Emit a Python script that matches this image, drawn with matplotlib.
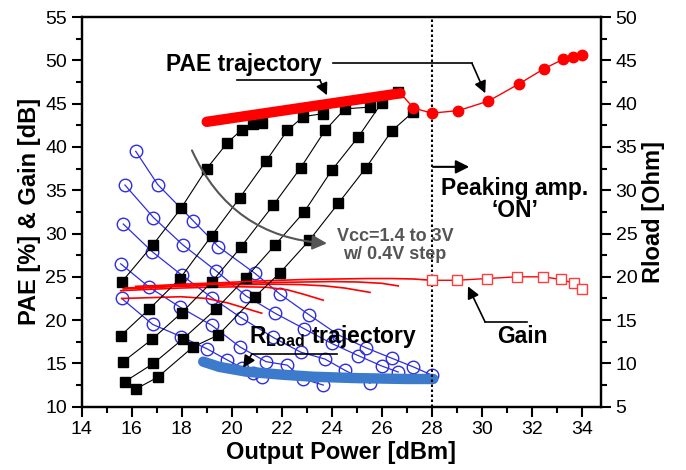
import matplotlib
matplotlib.use('Agg')
import matplotlib.pyplot as plt
import numpy as np
from matplotlib.patches import FancyArrowPatch
from matplotlib.ticker import MultipleLocator

plt.rcParams['font.family'] = ['Liberation Sans', 'DejaVu Sans']
plt.rcParams['mathtext.fontset'] = 'custom'
plt.rcParams['mathtext.bf'] = 'Liberation Sans:bold'
plt.rcParams['mathtext.rm'] = 'Liberation Sans'

# --- per Vcc sweep: output power [dBm], PAE [%], gain [dB], Rload [Ohm]
pout_14 = [15.6, 16.84, 17.97, 19.0, 19.82, 20.4, 20.85, 21.2]
pae_14 = [24.4, 28.66, 32.9, 37.5, 40.46, 42.0, 42.6, 42.8]
gain_14 = [22.5, 22.6, 22.7, 22.5, 22.0, 21.5, 21.1, 20.8]
rload_14 = [17.5, 14.5, 13.1, 11.7, 10.4, 9.5, 8.9, 8.4]

pout_18 = [15.56, 16.7, 17.93, 19.2, 20.33, 21.37, 22.22, 22.86, 23.66]
pae_18 = [18.2, 21.27, 24.8, 29.75, 34.16, 38.35, 41.9, 43.5, 43.85]
gain_18 = [23.4, 23.55, 23.7, 23.8, 23.85, 23.8, 23.5, 23.0, 22.3]
rload_18 = [21.5, 18.8, 16.5, 14.4, 11.9, 10.2, 9.8, 8.2, 7.5]

pout_22 = [15.66, 16.82, 18.0, 19.2, 20.36, 21.66, 22.76, 23.73, 24.53, 25.53]
pae_22 = [15.2, 17.8, 20.85, 24.4, 28.4, 33.27, 37.6, 41.9, 44.4, 44.6]
gain_22 = [23.6, 23.75, 23.9, 24.0, 24.1, 24.15, 24.1, 23.95, 23.7, 23.2]
rload_22 = [26.1, 22.9, 20.2, 17.6, 15.3, 13.0, 11.3, 10.5, 9.2, 7.7]

pout_26 = [15.73, 16.87, 18.04, 19.37, 20.57, 21.73, 22.9, 24.0, 25.06, 26.0, 26.66]
pae_26 = [12.9, 15.0, 17.8, 21.27, 24.9, 28.66, 32.5, 37.3, 41.15, 45.1, 46.4]
gain_26 = [23.7, 23.85, 24.0, 24.15, 24.25, 24.35, 24.4, 24.45, 24.4, 24.25, 23.95]
rload_26 = [30.6, 26.85, 23.7, 20.7, 17.8, 15.8, 14.0, 12.3, 10.9, 9.7, 9.0]

pout_30 = [16.16, 17.04, 18.45, 19.46, 20.93, 21.93, 23.1, 24.26, 25.37, 26.4, 27.26, 28.0]
pae_30 = [12.04, 13.4, 16.9, 18.27, 22.7, 25.46, 29.2, 33.47, 37.6, 41.85, 44.04, np.nan]
gain_30 = [23.9, 24.0, 24.2, 24.3, 24.5, 24.6, 24.7, 24.75, 24.8, 24.8, 24.75, 24.6]
rload_30 = [34.5, 30.66, 26.5, 23.5, 20.4, 18.0, 15.6, 13.3, 11.8, 10.6, 9.6, 8.65]

# --- peaking amplifier ON region
pout_pk_pae = [26.75, 27.27, 28.0, 29.07, 30.27, 31.5, 32.5, 33.24, 33.65, 34.0]
pae_pk = [46.2, 44.5, 43.9, 44.2, 45.3, 47.3, 49.05, 50.1, 50.4, 50.6]
pout_pk_gain = [28.0, 29.0, 30.2, 31.4, 32.44, 33.17, 33.7, 34.0]
gain_pk = [24.6, 24.6, 24.8, 25.0, 25.0, 24.7, 24.24, 23.58]

# --- trajectories
pae_traj_x = [19.0, 26.75]
pae_traj_y = [42.9, 46.2]
rload_traj_x = [18.86, 19.5, 20.6, 22.0, 23.26, 25.0, 27.0, 28.06]
rload_traj_y = [10.2, 9.6, 9.04, 8.7, 8.46, 8.3, 8.2, 8.2]

sweeps = [
    (pout_14, pae_14, gain_14, rload_14),
    (pout_18, pae_18, gain_18, rload_18),
    (pout_22, pae_22, gain_22, rload_22),
    (pout_26, pae_26, gain_26, rload_26),
    (pout_30, pae_30, gain_30, rload_30),
]

RED = '#ff0000'
BLUE = '#2e2ee0'

fig = plt.figure(figsize=(6.86, 4.70), dpi=100)
ax = fig.add_axes([0.1191, 0.1347, 0.757, 0.829])
ax2 = ax.twinx()
ax.set_zorder(ax2.get_zorder() + 1)
ax.patch.set_visible(False)

for pout, pae, gain, rload in sweeps:
    ax2.plot(pout, rload, '-o', color=BLUE, lw=0.9, ms=9, mfc='none', mec=BLUE, mew=1.0)
    ax.plot(pout, gain, '-', color=RED, lw=1.2)
    ax.plot(pout, pae, '-s', color='k', lw=0.8, ms=7.5)

ax2.plot(rload_traj_x, rload_traj_y, '-', color='#3c7bcc', lw=7.5, solid_capstyle='round')

ax.plot(pout_pk_gain, gain_pk, '-s', color=RED, lw=1.0, ms=7, mfc='white', mec='#ff3b3b', mew=1.0)
ax.plot(pout_pk_pae[1:], pae_pk[1:], '-o', color=RED, lw=1.0, ms=7.5)
ax.plot(pout_pk_pae[:2], pae_pk[:2], '-', color=RED, lw=1.0)
ax.plot(pae_traj_x, pae_traj_y, '-', color=RED, lw=7.5, solid_capstyle='round')

ax.axvline(28, color='k', ls=(0, (1.2, 1.2)), lw=1.5, zorder=1)

ax.set_xlim(14, 34.77)
ax.set_ylim(10, 55)
ax2.set_ylim(5, 50)
ax.xaxis.set_major_locator(MultipleLocator(2))
ax.xaxis.set_minor_locator(MultipleLocator(1))
ax.yaxis.set_major_locator(MultipleLocator(5))
ax.yaxis.set_minor_locator(MultipleLocator(2.5))
ax2.yaxis.set_major_locator(MultipleLocator(5))
ax2.yaxis.set_minor_locator(MultipleLocator(2.5))

for a in (ax, ax2):
    a.tick_params(which='major', direction='out', length=7, width=1.5, labelsize=14)
    a.tick_params(which='minor', direction='out', length=4, width=1.5)
    for s in a.spines.values():
        s.set_linewidth(1.6)

ax.set_xlabel('Output Power [dBm]', fontsize=17, fontweight='bold', labelpad=2)
ax.set_ylabel('PAE [%] & Gain [dB]', fontsize=17, fontweight='bold', labelpad=3)
ax2.set_ylabel('Rload [Ohm]', fontsize=17, fontweight='bold', labelpad=3)

# annotations
ax.text(20.5, 49.5, 'PAE trajectory', fontsize=16.5, fontweight='bold', ha='center', va='center')
ax.plot([24.05, 29.61], [49.66, 49.66], color='k', lw=1.2)
ax.annotate('', xy=(30.14, 46.2), xytext=(29.61, 49.66),
            arrowprops=dict(arrowstyle='-|>', color='k', lw=1.2, mutation_scale=18,
                            shrinkA=0, shrinkB=0))
ax.plot([20.21, 23.53], [47.7, 47.7], color='k', lw=1.2)
ax.annotate('', xy=(23.81, 45.97), xytext=(23.53, 47.7),
            arrowprops=dict(arrowstyle='-|>', color='k', lw=1.2, mutation_scale=18,
                            shrinkA=0, shrinkB=0))

arc = FancyArrowPatch((18.41, 39.6), (23.81, 28.87), connectionstyle='arc3,rad=0.3',
                      arrowstyle='-|>', color='#555555', lw=1.5, mutation_scale=22,
                      shrinkA=0, shrinkB=0, zorder=5)
ax.add_patch(arc)
ax.text(26.53, 28.65, 'Vcc=1.4 to 3V\nw/ 0.4V step', fontsize=13, fontweight='bold',
        color='#555555', ha='center', va='center', linespacing=1.1)

ax.annotate('', xy=(29.5, 37.7), xytext=(28.05, 37.7),
            arrowprops=dict(arrowstyle='-|>', color='k', lw=1.5, mutation_scale=20,
                            shrinkA=0, shrinkB=0))
ax.text(31.33, 33.97, 'Peaking amp.\n\u2018ON\u2019', fontsize=16.5, fontweight='bold',
        ha='center', va='center', linespacing=0.95)

ax.text(31.63, 18.08, 'Gain', fontsize=16.5, fontweight='bold', ha='center', va='center')
ax.plot([31.8, 30.13], [19.81, 19.81], color='k', lw=1.2)
ax.annotate('', xy=(29.45, 23.9), xytext=(30.13, 19.81),
            arrowprops=dict(arrowstyle='-|>', color='k', lw=1.2, mutation_scale=18,
                            shrinkA=0, shrinkB=0))

ax.text(24.07, 17.4, r'$\mathbf{R_{Load}}$ trajectory', fontsize=16.5, fontweight='bold',
        ha='center', va='baseline')
ax.plot([24.2, 20.81], [16.1, 16.1], color='k', lw=1.2)
ax.annotate('', xy=(20.46, 14.5), xytext=(20.81, 16.1),
            arrowprops=dict(arrowstyle='-|>', color='k', lw=1.2, mutation_scale=18,
                            shrinkA=0, shrinkB=0))

fig.savefig('out.png', dpi=100)
